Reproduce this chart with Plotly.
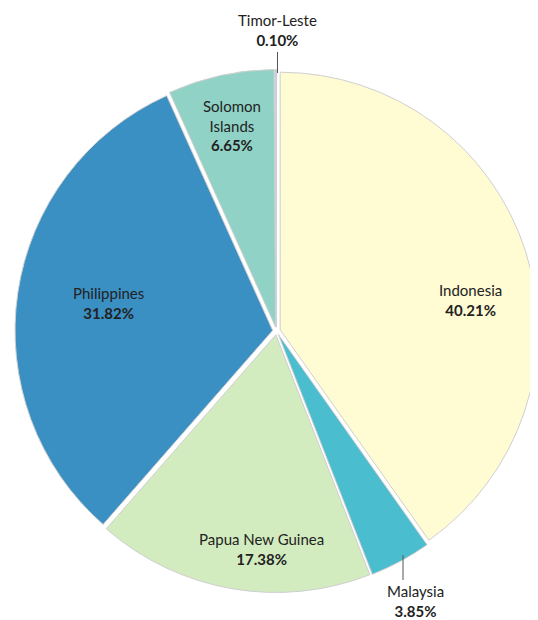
import plotly.graph_objects as go

countries = ["Indonesia", "Malaysia", "Papua New Guinea", "Philippines", "Solomon Islands", "Timor-Leste"]
shares = [40.21, 3.85, 17.38, 31.82, 6.65, 0.10]
colors = ["#FFFBD3", "#4ABDCF", "#D2ECC0", "#3A8FC3", "#90D3C6", "#C5CAE6"]
display_names = ["Indonesia", "Malaysia", "Papua New Guinea", "Philippines", "Solomon<br>Islands", "Timor-Leste"]

# the page body adds an 8px margin, so the figure is laid out in its own pixel frame
OFF = 8
W, H = 530, 612
# label centres in window pixels (layout only)
label_pos = [(470, 300), (415, 601), (261, 549), (108, 303), (232, 126), (277, 30)]
# leader lines for the outside labels (window pixels)
leaders = [((403, 555), (403, 580)), ((277.5, 52), (277.5, 73))]


def px(x):
    return (x - OFF) / W


def py(y):
    return 1 - (y - OFF) / H


fig = go.Figure(go.Pie(
    labels=countries,
    values=shares,
    sort=False,
    direction="clockwise",
    rotation=0,
    marker=dict(colors=colors, line=dict(color="#cfcfcf", width=1)),
    pull=[0.015] * len(shares),
    textinfo="none",
    showlegend=False,
    hoverinfo="label+percent",
    domain=dict(x=[7 / W, 1.0], y=[0.0441, 0.9003]),
))

font = dict(family="Lato, Open Sans, sans-serif", size=15, color="#222222")
for name, val, (lx, ly) in zip(display_names, shares, label_pos):
    fig.add_annotation(
        x=px(lx), y=py(ly), xref="paper", yref="paper",
        text=f"{name}<br><b>{val:.2f}%</b>",
        showarrow=False, font=font, align="center",
        xanchor="center", yanchor="middle",
    )

for (x0, y0), (x1, y1) in leaders:
    fig.add_shape(type="line", xref="paper", yref="paper",
                  x0=px(x0), y0=py(y0), x1=px(x1), y1=py(y1),
                  line=dict(color="#555555", width=1))

fig.update_layout(
    width=W,
    height=H,
    margin=dict(l=0, r=0, t=0, b=0),
    paper_bgcolor="white",
    plot_bgcolor="white",
)

fig.write_html("out.html")
